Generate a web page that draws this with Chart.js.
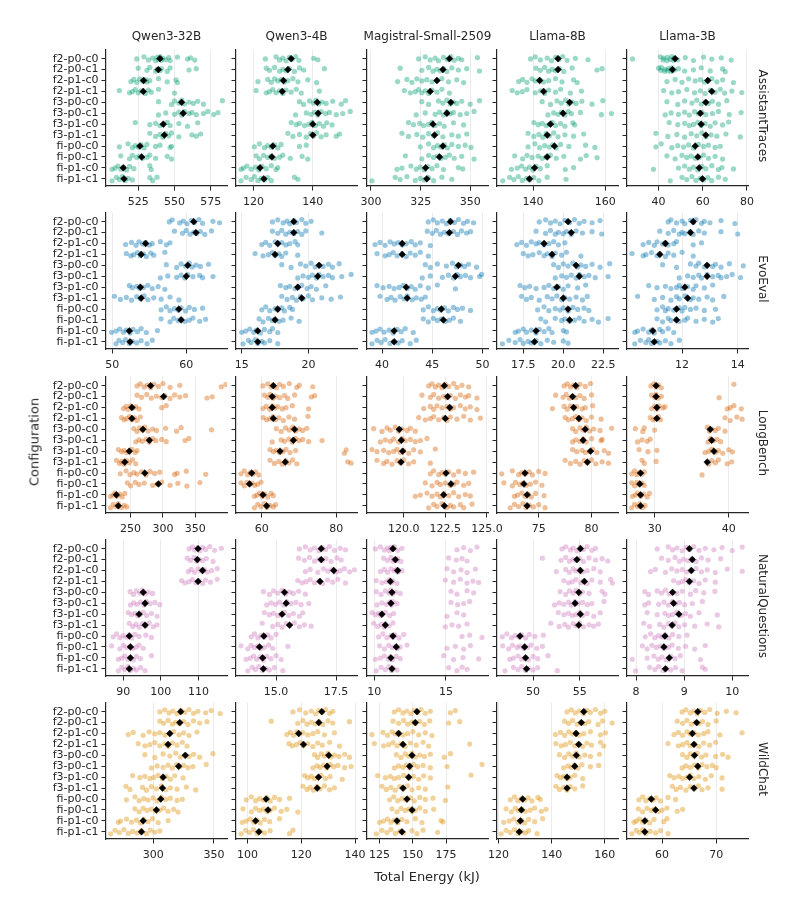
<!DOCTYPE html>
<html>
<head>
<meta charset="utf-8">
<script src="https://cdn.jsdelivr.net/npm/chart.js@4.4.1/dist/chart.umd.min.js"></script>
<style>
  body { margin: 0; background: #fff; width: 792px; height: 913px; position: relative; overflow: hidden;
         font-family: 'DejaVu Sans', sans-serif; color: #262626; }
  canvas { position: absolute; }
  .lbl { position: absolute; white-space: nowrap; line-height: 1; }
</style>
</head>
<body>
<script>
// categories / facets
const categories = ['f2-p0-c0','f2-p0-c1','f2-p1-c0','f2-p1-c1','f3-p0-c0','f3-p0-c1','f3-p1-c0','f3-p1-c1','fi-p0-c0','fi-p0-c1','fi-p1-c0','fi-p1-c1'];
const models = ['Qwen3-32B','Qwen3-4B','Magistral-Small-2509','Llama-8B','Llama-3B'];
const benchmarks = ['AssistantTraces','EvoEval','LongBench','NaturalQuestions','WildChat'];

// ---- AssistantTraces ----
const atQ32 = [
  [524,529,532,535,537,538,539,540,541,542,544,546,547,552,559,561,564],
  [525,531,533,537,538,540,541,545,547,560,565],
  [520,522,524,526,528,530,531,533,539,545,551,552],
  [512,519,521,523,525,527,530,532,534,539,550],
  [539,548,550,553,555,557,560,563,566,570,583],
  [539,544,550,553,555,557,560,562,565,570,573,577,580],
  [523,533,537,540,542,545,547,553,559,566],
  [533,537,540,542,544,546,548,553,562,565,568],
  [512,518,521,523,525,527,529,531,537,540,547,548],
  [513,519,521,524,526,528,531,533,537,545,548],
  [507,509,511,513,515,517,519,522,533,534],
  [507,510,512,514,516,518,521,533,535,538]
];
const atQ32Mean = [540,538.9,528.7,528.5,554.9,556,542.3,543,526.2,527.4,514.7,515.2];
const atQ4 = [
  [124,127.6,128.8,129.9,131,132.1,133,134.2,135.3,140.3,141.7],
  [124.3,125.4,127.1,128.8,129.9,131,132.1,133.8,135.5,136.9,143.9],
  [121.5,124.8,126,127.1,128.2,129.3,130.4,131.6,133.3,135,138.3,141.3],
  [120.9,124.3,125.4,126.5,127.6,128.8,129.9,131,132.7,134.4,136.1,142.2],
  [135.5,136.9,138.9,140.2,141.1,142,143.1,144.5,146.7,149.6,151],
  [134.2,137.8,139.4,140.6,141.7,142.8,144.3,145.6,147.9,150.1,152.6],
  [132.7,134.4,135.5,137.2,138.7,139.8,140.9,142.2,143.6,144.7,146.5],
  [131.6,133.3,135.5,137.8,139.2,140.2,141.3,142.8,144.5,147.9,149],
  [120.3,122,123.7,124.8,126,127.1,128.2,129.3,135.5,137.8],
  [120.9,122,123.4,124.8,126,127.1,128.8,129.9,132.4,136.4,138.3],
  [115.8,116.6,117.8,119.2,120.7,121.8,122.9,124.3,126,127.6,128.2],
  [115.8,117.5,119.2,120.3,121.5,122.6,123.7,124.8,126,133.8,135]
];
const atQ4Mean = [132.7,131.6,130.1,129.7,141.5,141.8,140,140,126.5,126.2,122.2,123.5];
const atMag = [
  [324,327.3,329.8,332.3,334,336.5,338.5,340.2,341.9,344,345.7,353.6],
  [314.7,325.6,329,331.2,333.2,334.9,336.5,338.2,340.7,344,348.2,354.6],
  [313.4,318.1,320.6,323.1,325.6,328.1,330.7,333.2,335.7,339,343.2,346.6],
  [316.8,319.8,322.3,324,325.6,327.3,329,330.7,333.2,335.7,339.5],
  [325.6,329,334,336.2,338.2,339.9,341.5,343.2,345.7,349.9,354.6],
  [322.8,327.3,332.3,334.5,336.5,338.2,339.9,341.5,344.9,348.2,351.9],
  [318.9,321.4,324.5,326.5,329,330.7,332.3,334.5,336.9,341.5,346.6],
  [315.6,318.9,323.1,326.1,329,331.5,333.5,336.2,340.7,344,348.2],
  [324.8,329,331.5,333.5,335.2,336.9,338.5,340.7,344,347.4,350.3],
  [317.3,325.6,329,331.5,333.5,335.2,337.4,339.5,341.9,345.7,351.9],
  [313.1,315.6,320.1,322.8,324.8,326.8,328.5,330.7,333.2,336.5,344,346.2],
  [300.5,312.2,314.7,318.1,322.3,324.8,326.8,329,331.5,335.7,340.7]
];
const atMagMean = [339.5,336.2,333.2,329.8,340.2,338.2,331.2,332,336.2,334.5,327.5,328.1];
const atL8 = [
  [139.3,140.6,142,143.9,145.1,146.2,147.1,148.2,149.4,151.7,155.2],
  [140.8,142,143.2,144.3,145.3,146.2,147.3,148.5,150.8,157.7,159.1],
  [136,137.1,138.3,139.7,140.6,141.8,142.9,144.3,146.2,148,151.2,152.2],
  [134.2,135.6,137,138.3,140.6,142,143.2,144.3,146.2,147.6,150.3,153.4],
  [142.5,144.8,146.6,147.8,149,149.9,150.8,151.9,153.5,156.3,159.3],
  [144.1,145.7,146.9,147.8,148.8,149.7,150.6,153.1,158.9,161.7],
  [140.2,141.4,142.5,143.6,144.5,145.3,146.2,147.6,148.8,151,151.5],
  [138.6,140.2,141.6,142.7,143.6,144.5,145.7,146.9,148.8,151.2,154],
  [138.6,140.5,141.8,143.2,144.5,145.4,146.4,147.6,149.9,154.5,157.1],
  [134.9,137.1,138.3,139.7,141.4,142.5,143.6,144.8,146.4,148.5,153.1,154.7,157.7],
  [134,135.6,136.8,137.9,139,139.9,140.8,142,143.9,148.9,151.2],
  [131.6,133.5,134.7,135.9,137,138.2,139,140.2,141.6,143.9,149.1]
];
const atL8Mean = [146.9,146.9,141.8,142.9,150.1,148.3,144.8,143.9,145.9,143.9,140.4,139];
const atL3 = [
  [28.2,40.8,42,42.3,43.8,44,45.3,46,46.8,47,48.7,52.1,55.8,60.4,64.1,68.4,72.9],
  [40,41,41.2,42.7,43,44.2,44.5,45.7,46,47.2,49,51.8,55.8,59.3,63.4,69,70.2],
  [43.8,47.5,50.6,53.6,56.6,58.9,60.8,62.3,64.1,66.4,69,73.9],
  [42.3,46,49,52.8,56.3,58.9,61.1,63.4,65.6,67.9,69.9,73.2,77.7],
  [43.8,48.7,51.8,55.1,57.3,59.3,61.1,62.6,64.4,67.1,70.9],
  [43,45.7,49,51.8,53.9,56.3,58.1,59.6,61.4,64.4,67.1,72,77.4],
  [44.8,48.7,51.8,53.9,55.8,57.8,59.3,61.1,63.4,65.6,69,71.7],
  [38.8,44.2,48.3,51.8,54.8,57.3,59.6,61.4,63.8,66.4,70.5,77],
  [38.8,41.2,46,48.7,51.3,53.6,55.8,58.1,60.4,62.6,65.6,67.9],
  [43.8,47.5,50.6,52.8,54.8,56.6,58.4,60.4,62.6,65.6,69],
  [37.7,49,51.8,53.9,55.8,57.8,59.6,61.4,64.1,67.1,68.7,73.9],
  [45.3,50.6,52.8,55.1,56.9,58.9,60.4,62.3,64.1,67.1,70.2]
];
const atL3Mean = [47.5,46.3,62.3,64.1,61.4,58.9,59.3,61.4,56.6,57.8,58.4,59.9];

// ---- EvoEval ----
const evQ32 = [
  [57.7,58.1,59.1,59.6,60.1,60.7,61.1,61.7,62.2,63.6,64.5],
  [58.4,59.5,60,60.5,61,61.4,61.9,62.5,63.4],
  [51.8,52.6,53.2,53.6,54.1,54.5,55,55.4,56.5,57.3,57.8],
  [51.9,52.5,52.9,53.4,53.8,54.2,54.6,55.2,55.6,57.1],
  [57.3,58.7,59.3,59.9,60.4,60.8,61.3,61.9,63],
  [56.5,57.5,58.7,59.3,59.8,60.2,60.9,61.8,62.2,63.6],
  [52.3,52.7,53.3,53.7,54.2,54.8,55.4,56.2,57.1],
  [50.3,51.1,51.9,52.6,53.3,53.8,54.3,54.8,55.6,56.6,57.8,59],
  [56.6,57.3,57.8,58.4,58.9,59.3,59.9,60.4,61.1,62.2],
  [56.6,57.8,58.3,58.9,59.3,59.8,60.4,60.9,61.8,62.6],
  [49.9,50.5,51,51.5,51.9,52.4,52.8,53.4,53.9,54.6,56.1],
  [50.5,50.9,51.4,51.8,52.3,52.7,53.3,53.9,54.7,55.4]
];
const evQ32Mean = [61,61.3,54.5,53.9,60.2,60,53.8,53.9,59,59.3,52.3,52.4];
const evQ4 = [
  [17.3,17.7,18.1,18.4,18.6,18.9,19.1,19.5,19.8,20.2],
  [17.3,17.7,18,18.3,18.6,18.9,19.2,19.5,19.8,21],
  [16.5,16.8,17.1,17.5,17.7,18,18.3,18.6,19,19.2],
  [16,16.6,17,17.3,17.5,17.8,18,18.3,19.2],
  [18,18.7,19.4,19.8,20.2,20.5,20.8,21.1,21.5,21.8,22.3],
  [19.2,19.6,20,20.3,20.6,20.8,21.1,21.5,21.8,22.5,23.2],
  [17.9,18.3,18.6,19,19.2,19.5,19.9,20.2,20.6,21.3],
  [18,18.4,18.8,19.1,19.4,19.6,20,20.3,21,21.7,22.4],
  [16.5,16.8,17.1,17.5,17.7,18,18.2,18.6,18.8],
  [16.3,16.6,17,17.3,17.5,17.8,18.1,18.7,19.3],
  [15,15.3,15.6,15.9,16.1,16.4,16.7,17.1,17.3,17.7],
  [15.1,15.5,15.7,16,16.2,16.5,16.7,17.1,17.7]
];
const evQ4Mean = [18.9,18.9,17.7,17.5,20.8,20.7,19.2,19.5,17.7,17.5,16.2,16.2];
const evMag = [
  [44.6,45.1,45.5,46,46.4,46.8,47.2,47.6,48.1,48.5,49.1],
  [44.5,45,45.4,45.8,46.2,46.6,47.1,47.5,47.9,48.4,48.8],
  [39.3,39.8,40.3,40.8,41.2,41.6,42,42.4,42.9,43.3,43.8,44.8],
  [39.5,40.3,40.7,41.1,41.5,42,42.4,42.8,43.3,43.8,44.6],
  [44.3,44.8,45.5,46.4,47,47.4,47.8,48.2,48.6,49.4],
  [44,44.8,46,46.6,47.1,47.5,47.8,48.3,48.8,49.7,49.9],
  [39.5,40.1,40.7,41.2,41.7,42.1,42.5,42.9,43.3,43.8,44.6,45.5,47.3],
  [39.8,40.5,40.9,41.3,41.8,42.2,42.5,43,43.4,43.9,44.3],
  [44.1,44.6,45.1,45.5,45.8,46.2,46.6,47.1,47.5,48,48.8],
  [44.1,44.6,45.1,45.5,45.9,46.3,46.7,47.1,47.8],
  [39,39.4,39.8,40.2,40.7,41.1,41.5,41.9,42.3,43.1],
  [39,39.5,39.9,40.3,40.8,41.2,41.6,42,42.8,43.4]
];
const evMagMean = [46.8,46.7,42,42,47.6,47.3,42.4,42.5,45.9,46.1,41.2,41.2];
const evL8 = [
  [18.5,18.9,19.2,19.5,19.8,20.1,20.4,20.7,21,21.3,21.8,22.3],
  [18.3,18.9,19.2,19.5,19.7,20,20.2,20.5,20.8,21.2,21.8,22.4],
  [17.1,17.4,17.7,18,18.3,18.5,18.8,19.1,19.4,19.7,20.1],
  [17.5,17.8,18.1,18.5,18.8,19,19.3,19.5,19.9,20.2,21.1],
  [19.4,19.7,20,20.3,20.6,20.9,21.1,21.4,21.8,22.3,22.9],
  [19.5,19.9,20.2,20.5,20.8,21,21.3,21.6,22,22.8],
  [17.3,17.6,17.9,18.3,18.8,19.1,19.4,19.7,20,20.3,20.9,21.4],
  [17.4,17.7,18,18.5,19,19.3,19.6,19.9,20.1,20.4,20.8,21.2,21.5],
  [18.4,18.8,19.1,19.5,19.8,20,20.3,20.6,20.9,21.3,21.6],
  [18.6,18.9,19.5,19.9,20.1,20.4,20.7,21,21.3,21.8,22.2,22.8],
  [17,17.2,17.5,17.7,18,18.3,18.5,18.8,19.1,19.3,20,20.2],
  [16.2,16.6,17,17.3,17.5,17.8,18,18.3,18.6,19,19.4,20,20.3]
];
const evL8Mean = [20.3,20.5,18.8,19.3,20.8,21,19.6,20,20.3,20.4,18.3,18.2];
const evL3 = [
  [11.5,11.6,11.8,12,12.1,12.3,12.4,12.5,12.7,12.8,13,13.4,13.9],
  [11.2,11.5,11.7,11.9,12,12.1,12.3,12.4,12.6,12.8,13.4,14],
  [10.6,10.8,11,11.1,11.3,11.4,11.5,11.7,11.8,12.4,12.7],
  [10.2,10.6,10.7,10.9,11.1,11.2,11.4,11.5,11.7,12,12.4],
  [11.3,11.8,12.3,12.5,12.6,12.8,12.9,13.1,13.2,13.4,13.7,14.2],
  [11.9,12.2,12.4,12.6,12.7,12.9,13.1,13.3,13.4,13.6,13.8,14.1],
  [10.8,11.1,11.4,11.6,11.8,11.9,12,12.2,12.4,12.5,12.8,13.1],
  [10.4,11,11.3,11.6,11.8,11.9,12.1,12.3,12.4,12.6,12.9,13.1,13.5],
  [11.1,11.3,11.4,11.5,11.7,11.9,12,12.1,12.3,12.5,12.8,13.2],
  [11.1,11.3,11.5,11.6,11.8,11.9,12.1,12.2,12.5,12.8,13.1,13.3],
  [10.3,10.4,10.6,10.8,10.9,11,11.2,11.3,11.5,11.7],
  [10.3,10.5,10.7,10.8,10.9,11.1,11.2,11.4,11.6,11.9]
];
const evL3Mean = [12.4,12.3,11.4,11.2,12.9,12.9,12.1,12.2,11.8,11.8,10.95,11];

// ---- LongBench ----
const lbQ32 = [
  [260,265,271,276,281,286,293,300,311,326,390,397],
  [260,267,275,282,290,298,303,311,318,326,335,368,376],
  [239,243,246,250,254,258,263,298,305],
  [236,240,244,248,252,256,260,265],
  [255,260,264,268,272,277,284,290,304,321,328,375],
  [258,263,268,274,279,284,289,298,305,334,340],
  [231,236,240,244,248,252,257,260],
  [228,233,236,240,244,248,253,258],
  [234,243,249,255,260,267,274,280,287,295,318,322,336,366],
  [245,250,257,263,271,284,291,298,311,323,337,357],
  [219,223,226,229,233,237,241],
  [219,223,227,231,236,240,244]
];
const lbQ32Mean = [281,301,252,252,269,279,248,241,272,293,228,231];
const lbQ4 = [
  [60.3,61.6,62.5,63.1,63.9,64.8,65.8,67.4,69.4,70.1,73.7],
  [60.7,61.6,62.2,63,63.7,64.8,66.1,67,68.8,73.3,74.2],
  [60.3,61.2,62.1,62.8,63.5,64.3,65.5,66.5,68.2,72.6],
  [60.4,61.3,62.2,63,63.7,64.6,65.8,67.3,68.8,72.4],
  [63.9,65.2,66.4,67.4,68.3,69.1,70,71,72.1],
  [62.8,65.2,66.1,67.3,68.2,69.1,70,71,72.6,76.2],
  [62.2,63.1,63.9,64.8,65.7,66.5,67.6,69.1,82.2,82.7],
  [62.2,63.4,64.6,65.5,66.4,67.3,68.3,69.4,83.1,84],
  [54.4,55.3,56.2,56.9,57.6,58.3,59.2],
  [54.4,55.3,56,56.7,57.4,58.1,58.9,59.8],
  [58,58.7,59.4,60.1,60.8,61.6,62.5,63.1],
  [58,58.9,59.8,60.7,61.4,62.2,63.1,63.7]
];
const lbQ4Mean = [63.1,62.8,62.8,63.1,68.8,68.5,64.9,66.3,57.3,56.7,60.3,61.3];
const lbMag = [
  [121.5,121.7,121.9,122.1,122.3,122.5,122.7,123,123.2,123.5,123.9],
  [121.1,121.6,121.8,122.1,122.4,122.6,122.8,123.1,123.4,123.7,123.9,124.4],
  [121.2,121.6,121.8,122,122.3,122.6,122.8,123,123.4,123.7,124,124.4],
  [120.9,121.3,121.6,121.8,122.1,122.4,122.6,122.8,123.2,123.6,124,124.6],
  [118.2,118.7,119,119.2,119.5,119.7,119.9,120.2,120.4,120.7],
  [118.6,118.9,119.2,119.4,119.7,119.9,120.1,120.4,120.7,121,121.4],
  [118.1,118.4,118.8,119.1,119.4,119.6,119.8,120,120.3,120.6,121,121.9],
  [118.4,118.8,119,119.3,119.6,119.8,120,120.3,120.6,121.6],
  [121.6,121.8,122.1,122.3,122.5,122.7,123,123.3,123.7,124.2],
  [121.3,121.7,122,122.2,122.5,122.8,123,123.2,123.6,123.9],
  [120.7,121,121.4,121.7,122,122.2,122.4,122.7,123,123.3,123.7,124],
  [121.5,121.8,122,122.3,122.6,122.8,123,123.4,123.6,124.1]
];
const lbMagMean = [122.44,122.64,122.76,122.5,119.74,119.86,119.94,119.84,122.54,122.84,122.4,122.44];
const lbL8 = [
  [77.4,77.7,78,78.3,78.6,78.9,79.4,79.9],
  [76.6,77.3,77.6,77.9,78.2,78.5,78.9,79.3,80],
  [76.3,77.4,77.7,78,78.3,78.6,79.1,79.4,80.1],
  [77.5,77.8,78.2,78.5,78.8,79.1,79.5,80,80.9],
  [78.2,78.5,78.9,79.2,79.5,79.8,80.2,80.8,81.9],
  [78.2,78.5,78.9,79.2,79.5,80,80.9,81],
  [78.2,78.6,79.1,79.4,79.8,80.1,80.5,81.2,81.6],
  [77.5,78,78.5,78.9,79.3,79.6,80,80.4,81,81.6],
  [71.5,72.5,73.1,73.4,73.7,74.1,74.4,75,75.6],
  [71.7,72.5,72.8,73.2,73.5,73.8,74.2,74.7,75.3],
  [72.7,73,73.4,73.7,74,74.3,74.7,75.5],
  [72.3,72.7,73.1,73.5,73.8,74.1,74.5,75,75.6]
];
const lbL8Mean = [78.5,78.2,78.3,78.8,79.4,79.2,79.9,79.6,73.7,73.6,73.9,73.9];
const lbL3 = [
  [29.5,29.9,30.2,30.5,30.9,40.7],
  [29.6,30,30.2,30.5,30.9,38.7],
  [29.6,30,30.3,30.6,31.1,31.4,39.8,40.2,40.7,41.7],
  [29.4,29.8,30.1,30.5,30.8,39.5,40.2,41.1,41.8],
  [27.4,28.4,28.6,30,37.1,37.4,37.7,38.2,38.6,39.5],
  [27.7,28.3,29,29.4,37.2,37.5,37.9,38.4,38.9],
  [27.9,29.1,30.3,36.8,37.3,37.7,38.2,38.6,39.2,40,40.5],
  [28.3,28.6,30.2,37.3,37.7,38.2,38.6,39.8,40.4],
  [26.9,27.3,27.6,27.9,28.3,28.6,36.4],
  [26.9,27.3,27.6,27.9,28.3,28.6],
  [27,27.4,27.7,28.1,28.5,29,29.3],
  [26.9,27.3,27.7,28,28.4,28.7]
];
const lbL3Mean = [30.2,30.2,30.3,30.3,37.5,37.7,38,37.1,28.1,28,28.1,28.1];

// ---- NaturalQuestions ----
const nqQ32 = [
  [107.5,108.4,109,109.6,110.4,111.1,111.9,113,114.3,116.1],
  [107,107.9,108.8,109.5,110.2,111.1,112.1,113.9],
  [107.3,108.1,109,109.9,110.8,111.5,112.3,113.5,115],
  [105.5,106.4,107.5,108.4,109.3,110.2,111.1,111.9,113.2,115],
  [91.8,92.7,93.5,94.4,95.1,95.8,96.6,97.8],
  [91.9,92.8,93.7,94.6,95.5,96.2,97.1,98.4,99.7],
  [91.3,92.2,93.1,93.8,94.5,95.3,96.2,97.5,99],
  [91.6,92.5,93.4,94.2,95.1,96,96.9,98,99],
  [87.3,88.2,89.1,90,90.9,91.6,92.3,93.1,94.2,96,97.5],
  [86.9,89.1,90,90.9,91.8,92.5,93.4,94.2,95.3],
  [88.7,89.6,90.4,91.2,91.9,92.7,93.5,94.6,97.5],
  [88.7,89.6,90.4,91.2,91.9,92.7,93.5,94.6,95.8]
];
const nqQ32Mean = [109.9,109.7,111.1,109.9,95.3,95.8,94.2,95.8,91.6,91.9,91.9,91.6];
const nqQ4 = [
  [15.97,16.22,16.42,16.6,16.78,16.92,17.06,17.22,17.43,17.67,17.89],
  [15.94,16.18,16.39,16.6,16.78,16.92,17.08,17.29,17.53,17.71],
  [16.22,16.42,16.74,16.97,17.15,17.33,17.5,17.67,17.85,18.06,18.26],
  [15.9,16.08,16.25,16.42,16.6,16.78,16.94,17.15,17.36,17.57,17.89],
  [14.47,14.72,14.89,15.07,15.25,15.39,15.56,15.72,15.94,16.22],
  [14.61,14.79,14.97,15.14,15.31,15.44,15.63,15.83,16.04,16.36],
  [14.51,14.72,14.89,15.07,15.21,15.35,15.53,15.72,15.97,16.11],
  [14.42,14.86,15.07,15.25,15.42,15.58,15.76,15.97,16.18,16.46],
  [13.96,14.1,14.24,14.38,14.51,14.65,14.79,15],
  [13.54,13.82,13.96,14.1,14.24,14.38,14.51,14.69,14.86,15.49],
  [13.75,13.92,14.06,14.19,14.33,14.47,14.61,14.79,15,15.21],
  [13.82,14,14.14,14.28,14.42,14.56,14.72,14.93,15.28]
];
const nqQ4Mean = [16.88,16.88,17.4,16.83,15.35,15.42,15.25,15.56,14.49,14.31,14.44,14.47];
const nqMag = [
  [10.07,10.42,10.7,10.93,11.05,11.16,11.28,11.4,11.63,11.93,15.77,16.23,16.7,17.16],
  [10.65,10.93,11.16,11.3,11.4,11.55,11.63,11.86,15.19,15.72,16.12,16.47],
  [10.42,10.7,10.93,11.16,11.4,11.5,11.63,11.93,15.07,15.53,16.05,16.47,17.05],
  [10.14,10.53,10.84,11.07,11.2,11.3,11.58,14.95,15.53,16,16.47,16.88,17.28],
  [10.14,10.47,10.77,11.02,11.15,11.26,11.49,11.81,15.35,15.77,16.47,16.93],
  [10.19,10.53,10.84,11.07,11.2,11.3,11.58,15.35,15.81,16.23,16.65],
  [9.84,10.07,10.3,10.45,10.53,10.77,11.07,11.35,15.07,15.77,16.23],
  [9.95,10.23,10.49,10.7,10.77,11.02,11.3,14.95,15.42,15.88,16.47],
  [10.3,10.6,10.88,11.16,11.3,11.44,11.72,12.05,16.12,16.65,17.51],
  [10.37,10.7,11,11.26,11.53,11.6,11.81,12.28,15.07,15.65,16.23,16.7],
  [10.07,10.42,10.7,10.98,11.1,11.26,11.53,11.81,14.84,15.53,16.19,17.28],
  [10.14,10.47,10.77,11.02,11.2,11.3,11.58,15.19,15.77,16.12,16.47]
];
const nqMagMean = [11.3,11.47,11.63,11.12,11.23,11.16,10.53,10.77,11.3,11.53,11.16,11.23];
const nqL8 = [
  [53.1,53.5,54,54.3,54.7,55.1,55.4,55.8,56.3,56.7],
  [51,53,53.5,53.9,54.3,54.6,55,55.4,56,56.7,57.4,58],
  [52.5,53.5,53.9,54.3,54.6,55,55.3,55.8,56.5,57.2],
  [53.3,53.8,54.2,54.6,55.1,55.4,55.8,56.3,57.2,58.3,58.5],
  [52.9,53.5,53.9,54.3,54.6,55,55.3,56,57.4,57.7],
  [52.3,52.8,53.3,53.8,54.1,54.5,54.8,55.3,55.8,56.3,57.6],
  [52.7,53.3,53.8,54.2,54.6,55,55.3,55.8,56.5,57.2],
  [51.9,52.8,53.4,53.8,54.3,54.6,55,55.4,56,56.5,57],
  [46.7,47.2,47.7,48.1,48.5,48.8,49.2,49.6,50.2,51.1],
  [46.75,47.4,47.8,48.3,48.6,49,49.4,49.8,50.4,51],
  [47.5,47.9,48.4,48.8,49.2,49.5,50,50.5,51.6],
  [47,47.9,48.4,48.8,49.2,49.5,50,50.5,52.6]
];
const nqL8Mean = [55.07,54.7,55.07,55.5,54.9,54.5,55.07,54.9,48.6,49.1,49.2,49.3];
const nqL3 = [
  [8.44,8.67,8.76,8.85,8.96,9.04,9.11,9.2,9.31,9.44,9.62,9.79,10,10.21],
  [8.53,8.67,8.81,8.9,8.99,9.08,9.17,9.25,9.36,9.5,9.76],
  [8.3,8.4,8.61,8.74,8.85,8.96,9.06,9.15,9.25,9.36,9.48,9.65,9.9,10.21],
  [8.78,8.88,8.96,9.03,9.11,9.2,9.31,9.44,9.65],
  [8.18,8.26,8.44,8.53,8.61,8.69,8.76,8.85,8.96,9.13,9.24,9.41,9.64],
  [8.18,8.26,8.47,8.58,8.67,8.75,8.82,8.9,9.01,9.17,9.38],
  [8.23,8.44,8.6,8.68,8.76,8.85,8.94,9.03,9.13,9.31,9.69],
  [8.16,8.28,8.49,8.58,8.67,8.74,8.81,8.89,9.01,9.22,9.48,9.72],
  [8.19,8.3,8.39,8.47,8.54,8.61,8.68,8.76,8.89,9.06],
  [8.13,8.23,8.33,8.42,8.5,8.58,8.67,8.75,8.88,9.03,9.22,9.44],
  [7.92,8.23,8.37,8.46,8.54,8.63,8.72,8.81,8.92,9.34],
  [7.99,8.28,8.39,8.47,8.56,8.63,8.72,8.82,8.96,9.38,9.44]
];
const nqL3Mean = [9.11,9.17,9.15,9.11,8.76,8.78,8.89,8.75,8.6,8.58,8.69,8.61];

// ---- WildChat ----
const wcQ32 = [
  [305.5,309.6,313.1,316.4,319.7,322.7,326,329.5,333.3,336.9,343.2,347.8,355.2],
  [305.5,308.7,312.3,315.8,318.6,321.9,325.1,328.7,333.3,338.3,344.3],
  [279.5,283.6,291.8,296.7,301.4,305.5,309.6,313.7,316.9,321.3,325.1,329.5,336.1],
  [287.7,293.2,297.3,301.4,305.5,309.6,312.3,315.8,319.7,324,327.9],
  [293.2,301.4,308.2,313.7,318.6,322.4,326,329.5,333.3,338.3,349.2],
  [298.6,303.3,308.2,312.3,315.8,319.1,321.9,325.1,328.7,332.8,343.7],
  [283.1,289.1,293.2,297.3,300.5,304.1,307.7,310.9,314.2,317.8,324.6],
  [277.6,280.9,291.3,294.5,298.6,302.7,306.8,310.4,314.2,319.7,327.3,335],
  [278.1,285,288.5,292.3,295.9,300,303.3,306.8,310.4,314.2,319.7,324],
  [285,288.5,291.8,295.1,298.6,302.2,305.5,308.7,312.3,316.9,320.5],
  [271.3,273.2,278.1,282.2,286.3,289.6,292.3,295.9,299.5,304.1,312.3],
  [265,268.6,272.1,275.9,279.5,283.1,286.9,290.4,294.5,297.8,301.4,305.5]
];
const wcQ32Mean = [322.7,321.9,313.7,312.3,326.5,321,308.2,307.7,306.3,302.7,291.8,290.4];
const wcQ4 = [
  [116.9,119.3,121.6,123.7,125.3,126.5,127.8,129,130.5,131.7],
  [108.8,118.7,120.6,122.1,123.7,125.3,126.5,128,129.9,131.7,137.9],
  [114.6,115.9,117.1,118.3,119.3,120.6,122.4,124.3,126.1,128.6,132.3],
  [115.4,116.6,118.1,119.6,120.8,122.4,124.3,126.1,127.8,130.5,134.2],
  [124.9,126.1,127.4,128.6,129.9,131.1,132.3,134,136.1,137.9],
  [124.3,125.8,127,128.3,129.5,130.7,132,133.6,136.1,138.5],
  [121.2,122.4,123.7,124.9,126.1,127.4,129,130.7,135.2],
  [120.6,122.1,123.3,124.5,125.8,127,128.6,130.5,132.3],
  [99.5,101.4,103,104.5,105.9,107.2,108.4,110,111.9,115.6],
  [98.3,101.4,103,104.5,105.9,107.2,108.4,110,112.5,114.6,118.7],
  [98,99.5,101,102.2,103.5,104.7,106.3,108.2,111.9],
  [97.6,99.3,100.7,102.2,103.5,104.7,106.3,108.4,115.6,116.9]
];
const wcQ4Mean = [127.6,126.5,119,120.8,130.2,129.6,126.4,125.9,106.9,107.6,103,104.2];
const wcMag = [
  [136.1,139.3,142.6,145.6,148.6,151.1,153.6,156.2,159.4,163.2,178.3,182],
  [135.1,139.3,143.1,146.1,149.4,151.9,155.2,158.7,162.7,177,185.3],
  [119.2,127.5,131,134.3,136.8,139.3,142.6,146.1,150.1,154.4,159.4,164.4],
  [121,128,131.8,135.1,138.1,141.1,144.3,148.1,152.6,157.7,161.9,192.8],
  [137.6,141.1,144.3,146.9,149.4,151.9,155.2,158.7,163.2,173.7,178.3],
  [136.1,139.3,142.6,145.1,147.6,150.6,153.6,157.7,163.2,175.8,202.1],
  [123.5,129.3,133,136.1,139.3,143.1,146.9,150.6,154.4,158.2,163.2,193.8],
  [126.8,130,133.5,136.8,140.1,143.1,146.1,149.4,154.4,159.4,176.3],
  [132.5,135.6,138.6,141.8,145.1,148.1,151.1,155.2,159.4,165.2,174.5],
  [134.3,138.1,141.1,144.3,146.9,149.4,151.9,155.2,159.4,165.7],
  [125,128,131,133.5,136.1,138.6,141.8,145.6,151.9,156.9,171.2,172.7],
  [122.5,126.8,130.5,133.5,136.8,140.1,143.1,149.4,153.1,157.7,168.7]
];
const wcMagMean = [153.1,151.9,139.3,142.6,149.4,147.6,146.9,142.6,145.6,149.4,138.1,141.8];
const wcL8 = [
  [145.8,147.4,148.9,150.4,152.1,153.3,154.6,156.5,158.4,160],
  [144.9,146.4,147.9,149.6,151.2,152.5,154,157.5,159.2,162.8],
  [141.4,143.3,144.9,146.4,147.9,149.2,150.4,152.1,154.6,158.4,160.3],
  [141.6,143.6,145.2,147,148.7,150.2,151.7,153.3,155,158.4,159.6],
  [142.9,144.9,146.4,147.9,149.2,150.4,152.5,154.6,158],
  [144.5,146.2,147.4,148.7,149.9,151.4,154.6,157.7],
  [142,143.3,144.5,145.8,147,148.7,151.7],
  [141.6,142.9,144.5,145.8,147,148.7,151.7],
  [124.4,126,127.3,128.6,129.8,131.1,132.6,134.8,135.7],
  [122.8,124.8,126.3,127.5,128.8,130.1,131.9,133.6,136.1,137.9],
  [121.9,124,125.7,127.3,128.6,129.8,131.3,133.6,136.6],
  [121,122.8,124.4,126,127.3,128.6,130.1,131.3,134.5]
];
const wcL8Mean = [152.1,151.2,149.2,150.2,149.3,148.7,145.8,145.8,129.1,128.6,128.2,127.8];
const wcL3 = [
  [63.7,64.4,65.2,65.9,66.5,67.1,67.9,68.8,70.2,71.9,73.7],
  [62.8,63.8,64.6,65.4,66.2,66.8,67.5,68.5,70],
  [62.2,63,63.8,64.6,65.2,65.9,66.7,67.7,68.5,70.7,74.8],
  [61.1,63,63.8,64.6,65.2,66,66.8,67.7,68.8,69.9],
  [63.8,64.6,65.2,65.9,66.5,67.3,68.1,69.9,71.2,72.2],
  [63.7,64.4,65.2,66,66.7,67.4,68.3,69.3,70],
  [61.4,62.2,63.1,63.8,64.6,65.2,65.9,66.8,68,69.1,71.1],
  [61.9,62.6,63.4,64.4,65.2,65.9,66.7,67.4,68.5,71.1],
  [55.7,56.4,57,57.7,58.3,58.9,59.7,61.1,62.5],
  [55.6,56.4,57.2,58,58.6,59.3,60,60.9,62.8,63.8],
  [54.8,55.2,55.8,56.4,57,57.7,58.5,60.3,60.9],
  [54.4,55.2,55.8,56.4,57,57.8,58.8,59.7,61.1]
];
const wcL3Mean = [66.6,66.4,65.6,65.9,66,66.6,65.1,65.9,58,58.8,56.8,56.8];

// x tick labels per panel row
const atTicks = [[525,550,575],[120,140],[300,325,350],[140,160],[40,60,80]];
const evTicks = [[50,60],[15,20],[40,45,50],[17.5,20,22.5],[12,14]];
const lbTicks = [[250,300,350],[60,80],[120,122.5,125],[75,80],[30,40]];
const nqTicks = [[90,100,110],[15,17.5],[10,15],[50,55],[8,9,10]];
const wcTicks = [[300,350],[100,120,140],[125,150,175],[120,140,160],[60,70]];

// x axis limits per panel
const atRange = [[502.8,586.2],[114.1,154.9],[298,358.9],[130,163.5],[25.7,80.5]];
const evRange = [[49.15,65.5],[14.57,23.64],[38.5,50.54],[15.86,23.42],[10.02,14.37]];
const lbRange = [[212,398.9],[53.06,85.6],[117.8,125.06],[71.05,82.5],[26.27,42.6]];
const nqRange = [[85.4,117.6],[13.33,18.37],[9.49,17.93],[46.14,59.1],[7.81,10.33]];
const wcRange = [[261.2,360.8],[95.7,140.7],[115.5,206.6],[119.4,165],[53.5,75.9]];

const panelRows = [
  { pts: [atQ32, atQ4, atMag, atL8, atL3], means: [atQ32Mean, atQ4Mean, atMagMean, atL8Mean, atL3Mean], ticks: atTicks, range: atRange, color: '2,158,115' },
  { pts: [evQ32, evQ4, evMag, evL8, evL3], means: [evQ32Mean, evQ4Mean, evMagMean, evL8Mean, evL3Mean], ticks: evTicks, range: evRange, color: '1,115,178' },
  { pts: [lbQ32, lbQ4, lbMag, lbL8, lbL3], means: [lbQ32Mean, lbQ4Mean, lbMagMean, lbL8Mean, lbL3Mean], ticks: lbTicks, range: lbRange, color: '213,94,0' },
  { pts: [nqQ32, nqQ4, nqMag, nqL8, nqL3], means: [nqQ32Mean, nqQ4Mean, nqMagMean, nqL8Mean, nqL3Mean], ticks: nqTicks, range: nqRange, color: '204,120,188' },
  { pts: [wcQ32, wcQ4, wcMag, wcL8, wcL3], means: [wcQ32Mean, wcQ4Mean, wcMagMean, wcL8Mean, wcL3Mean], ticks: wcTicks, range: wcRange, color: '222,143,5' }
];

// layout
const colLeft = [106, 236, 367, 497, 627];
const plotW = 121;
const rowTop = [46, 209, 373, 536, 699];
const plotH = 140;
const ink = '#262626';
const jitter = [0.02,-0.17,0.12,-0.06,0.19,-0.13,0.07,-0.2,0.15,-0.03,0.1,-0.1,0.17,-0.15,0.04,-0.08,0.13];

function addText(txt, x, y, size, rot) {
  const d = document.createElement('div');
  d.className = 'lbl';
  d.textContent = txt;
  d.style.left = x + 'px';
  d.style.top = y + 'px';
  d.style.fontSize = size + 'px';
  d.style.transform = 'translate(-50%,-50%)' + (rot ? ' rotate(' + rot + 'deg)' : '');
  document.body.appendChild(d);
}

panelRows.forEach((p, r) => {
  models.forEach((m, c) => {
    const padL = c === 0 ? 90 : 22, padR = 22, padT = 6, padB = 32;
    const w = padL + plotW + padR, h = padT + plotH + padB;
    const cv = document.createElement('canvas');
    cv.width = w; cv.height = h;
    cv.style.left = (colLeft[c] - padL) + 'px';
    cv.style.top = (rowTop[r] - padT) + 'px';
    cv.style.width = w + 'px'; cv.style.height = h + 'px';
    document.body.appendChild(cv);

    const strip = [];
    p.pts[c].forEach((vals, i) => {
      vals.forEach((v, k) => strip.push({ x: v, y: i + jitter[(k + i * 5) % jitter.length] }));
    });
    const means = p.means[c].map((v, i) => ({ x: v, y: i }));
    const ticks = p.ticks[c];
    const dec = ticks.some(t => !Number.isInteger(t)) ? 1 : 0;

    new Chart(cv, {
      type: 'scatter',
      data: {
        datasets: [
          { data: means, order: 0, pointStyle: 'rectRot', pointRadius: 3.4, pointHoverRadius: 3.4,
            backgroundColor: '#000', borderColor: '#000', borderWidth: 0.5 },
          { data: strip, order: 1, pointRadius: 2.6, pointHoverRadius: 2.6,
            backgroundColor: 'rgba(' + p.color + ',0.4)', borderWidth: 0 }
        ]
      },
      options: {
        responsive: false,
        animation: false,
        devicePixelRatio: 1,
        layout: { padding: { left: 0, right: padR, top: padT, bottom: 0 } },
        plugins: { legend: { display: false }, tooltip: { enabled: false } },
        scales: {
          x: {
            type: 'linear', min: p.range[c][0], max: p.range[c][1],
            afterFit: a => { a.height = padB; },
            afterBuildTicks: a => { a.ticks = ticks.map(v => ({ value: v })); },
            ticks: { callback: v => Number(v).toFixed(dec), autoSkip: false, maxRotation: 0,
                     padding: 5, color: ink, font: { family: 'DejaVu Sans', size: 11 } },
            grid: { color: 'rgba(0,0,0,0.08)', lineWidth: 1, drawTicks: true, tickLength: 4.5,
                    tickColor: ink, tickWidth: 1 },
            border: { display: true, color: ink, width: 1.2 }
          },
          y: {
            type: 'linear', reverse: true, min: -0.83, max: 11.66,
            afterFit: a => { a.width = padL; },
            afterBuildTicks: a => { a.ticks = categories.map((cat, i) => ({ value: i })); },
            ticks: { callback: v => (c === 0 ? categories[v] : ''), autoSkip: false, padding: 3,
                     color: ink, font: { family: 'DejaVu Sans', size: 11 } },
            grid: { drawOnChartArea: false, drawTicks: true, tickLength: 4.5, tickColor: ink, tickWidth: 1 },
            border: { display: true, color: ink, width: 1.2 }
          }
        }
      }
    });
  });
});

// facet titles and axis labels
models.forEach((m, c) => addText(m, colLeft[c] + plotW / 2, 36, 12));
benchmarks.forEach((b, r) => addText(b, 763, rowTop[r] + plotH / 2, 12, 90));
addText('Configuration', 34, 442, 13, -90);
addText('Total Energy (kJ)', 427, 876, 13);
</script>
</body>
</html>
